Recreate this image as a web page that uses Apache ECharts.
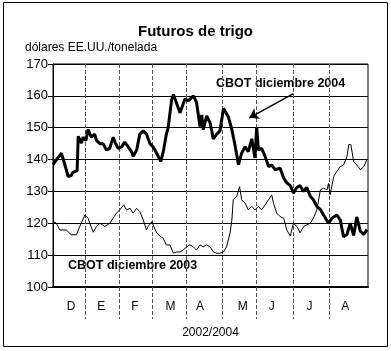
<!DOCTYPE html>
<html lang="es" style="height: 100%">
<head>
  <meta charset="utf-8">
</head>
<body style="height: 100%; margin: 0; background: #fff">
  <div id="container" style="width: 391px; height: 351px"></div>

  <script type="text/javascript" src="https://fastly.jsdelivr.net/npm/echarts@6.0.0/dist/echarts.min.js"></script>
  <script type="text/javascript">
// month positions on the x scale (0 = start of plot, 9 = end)
var monthEdges = [0.935, 1.88, 2.83, 3.8, 4.83, 5.82, 6.87, 7.88];
var monthLabelPos = [0.52, 1.38, 2.34, 3.36, 4.2, 5.42, 6.25, 7.33, 8.35];
var monthNames = ['D', 'E', 'F', 'M', 'A', 'M', 'J', 'J', 'A'];
var yTicks = [100, 110, 120, 130, 140, 150, 160, 170];

// CBOT diciembre 2004 (thick)
var dec04X = [0, 0.1, 0.24, 0.29, 0.38, 0.43, 0.52, 0.57, 0.69, 0.72, 0.81, 0.86, 0.94, 1.0, 1.1, 1.19, 1.24, 1.34, 1.43, 1.53,
  1.62, 1.72, 1.77, 1.86, 1.96, 2.05, 2.15, 2.24, 2.29, 2.39, 2.48, 2.58, 2.67, 2.77, 2.86, 2.96, 3.08, 3.15, 3.24, 3.29,
  3.39, 3.44, 3.63, 3.77, 3.87, 4.01, 4.1, 4.2, 4.25, 4.29, 4.39, 4.49, 4.58, 4.68, 4.77, 4.87, 5.01, 5.11, 5.2, 5.3,
  5.39, 5.49, 5.58, 5.68, 5.77, 5.82, 5.87, 5.96, 6.06, 6.16, 6.25, 6.35, 6.49, 6.59, 6.68, 6.78, 6.87, 6.97, 7.06, 7.16,
  7.25, 7.35, 7.44, 7.54, 7.64, 7.73, 7.87, 7.97, 8.11, 8.21, 8.3, 8.4, 8.49, 8.59, 8.68, 8.78, 8.88, 8.97];
var dec04Y = [138.4, 140, 142, 142, 136.8, 134.7, 135, 136, 136.5, 147.3, 145.2, 147, 146, 149.4, 147, 148, 146, 145, 145, 143,
  143.5, 147, 145.5, 143.5, 144, 145.5, 144, 142.5, 141, 143, 148, 149, 148, 145, 144, 142, 139.4, 142.4, 148, 150,
  158.8, 160.4, 154.7, 159, 158.5, 160, 158, 150.4, 154, 149.4, 153.7, 151.5, 146.5, 148, 149, 156, 153.4, 149.4, 144.5, 138.4,
  142, 144, 142.5, 146.5, 140.5, 150, 143, 143.5, 141, 137.8, 138.3, 136.8, 137.3, 134.2, 132.7, 131.8, 129.5, 131.3, 131.8, 130,
  131.3, 128.5, 127.4, 125.3, 124.3, 122.6, 120, 121.6, 122.6, 121, 115.8, 116.5, 120, 116.2, 122, 117.5, 116.5, 118];

// CBOT diciembre 2003 (thin)
var dec03X = [0, 0.1, 0.19, 0.38, 0.52, 0.67, 0.76, 0.81, 0.91, 1.0, 1.05, 1.15, 1.24, 1.34, 1.38, 1.48, 1.62, 1.72, 1.81, 1.91,
  2.02, 2.1, 2.2, 2.29, 2.39, 2.48, 2.58, 2.67, 2.72, 2.82, 2.86, 2.96, 3.05, 3.15, 3.24, 3.34, 3.44, 3.53, 3.63, 3.72,
  3.82, 3.91, 4.01, 4.1, 4.2, 4.29, 4.39, 4.49, 4.58, 4.68, 4.77, 4.87, 4.96, 5.06, 5.11, 5.13, 5.15, 5.25, 5.33, 5.39,
  5.49, 5.58, 5.68, 5.77, 5.87, 5.96, 6.06, 6.16, 6.25, 6.3, 6.39, 6.49, 6.59, 6.68, 6.78, 6.82, 6.87, 6.97, 7.06, 7.16,
  7.25, 7.35, 7.44, 7.54, 7.64, 7.73, 7.83, 7.87, 7.92, 8.02, 8.11, 8.21, 8.3, 8.4, 8.45, 8.51, 8.59, 8.68, 8.78, 8.88, 8.97];
var dec03Y = [120.5, 120, 117.9, 117.9, 116.4, 116.4, 118.9, 120.1, 122.6, 121.6, 120, 117.2, 119, 120, 120, 119, 120, 121.6, 123.2, 124.2,
  125.8, 124.2, 124.7, 123.2, 124.7, 123.7, 121, 117.9, 119, 120.5, 120, 117, 116, 115.3, 113.2, 113.2, 110.6, 111, 111, 111.6,
  112.6, 113.2, 112.6, 111.6, 113.2, 112.6, 113.2, 112.6, 111, 110.6, 110.6, 111, 112.6, 117, 121, 124.2, 127.4, 128.5, 131.5, 127.4,
  126.3, 124.2, 125.3, 124.2, 125.3, 124.2, 125.8, 127.4, 128.9, 126.3, 123.2, 122.1, 121.6, 117.9, 116, 117.9, 120, 119, 117, 119,
  119.5, 120, 121.6, 124.2, 130.5, 131, 130.5, 132.5, 129, 134.7, 136.3, 137.8, 138.3, 141, 144.7, 144.7, 139.4, 138.3, 136.8, 137.8, 140];

// arrow pointing at the 2004 line
var arrowFrom = [6.87, 160.7];
var arrowTo = [5.61, 153.1];

function pairs(xs, ys) {
  return xs.map(function (x, i) { return [x, ys[i]]; });
}

var myChart = echarts.init(document.getElementById('container'), null, { renderer: 'canvas' });

var font = 'Arial, "Liberation Sans", sans-serif';
var gridDash = { color: '#555', type: 'dashed', width: 1 };

var option = {
  animation: false,
  backgroundColor: '#fff',
  textStyle: { fontFamily: font, color: '#000' },
  title: {
    text: 'Futuros de trigo',
    left: 'center',
    top: 19,
    textStyle: { fontFamily: font, fontSize: 15, fontWeight: 'bold', color: '#000' }
  },
  grid: {
    left: 53, right: 23, top: 64, bottom: 64,
    show: true, borderColor: '#000', borderWidth: 1
  },
  xAxis: {
    type: 'value',
    min: 0,
    max: 9,
    name: '2002/2004',
    nameLocation: 'middle',
    nameGap: 40,
    nameTextStyle: { fontFamily: font, fontSize: 12, color: '#000' },
    axisLine: { show: true, lineStyle: { color: '#000', width: 2 } },
    axisTick: {
      show: true,
      customValues: monthEdges,
      length: 32,
      lineStyle: gridDash
    },
    splitLine: { show: true, lineStyle: gridDash },
    axisLabel: {
      customValues: monthLabelPos,
      margin: 14,
      fontFamily: font,
      fontSize: 12,
      color: '#000',
      formatter: function (v) {
        var best = 0;
        for (var i = 1; i < monthLabelPos.length; i++) {
          if (Math.abs(monthLabelPos[i] - v) < Math.abs(monthLabelPos[best] - v)) best = i;
        }
        return monthNames[best];
      }
    }
  },
  yAxis: {
    type: 'value',
    min: yTicks[0],
    max: yTicks[yTicks.length - 1],
    interval: 10,
    name: 'dólares EE.UU./tonelada',
    nameLocation: 'end',
    nameGap: 10,
    nameTextStyle: { fontFamily: font, fontSize: 12, color: '#000', align: 'left', padding: [0, 0, 0, -28] },
    axisLine: { show: true, lineStyle: { color: '#000' } },
    axisTick: { show: true, length: 5, lineStyle: { color: '#000' } },
    splitLine: { show: true, lineStyle: { color: '#000', width: 1 } },
    axisLabel: { fontFamily: font, fontSize: 13, color: '#000', margin: 5 }
  },
  series: [
    {
      name: 'CBOT diciembre 2003',
      type: 'line',
      data: pairs(dec03X, dec03Y),
      showSymbol: false,
      lineStyle: { color: '#000', width: 1 },
      z: 3
    },
    {
      name: 'CBOT diciembre 2004',
      type: 'line',
      data: pairs(dec04X, dec04Y),
      showSymbol: false,
      lineStyle: { color: '#000', width: 3 },
      z: 4,
      markLine: {
        silent: true,
        symbol: ['none', 'arrow'],
        symbolSize: 9,
        label: { show: false },
        lineStyle: { color: '#000', width: 1.5, type: 'solid' },
        data: [[{ coord: arrowFrom }, { coord: arrowTo }]]
      }
    }
  ],
  graphic: [
    {
      type: 'rect',
      shape: { x: 3.5, y: 2.5, width: 384, height: 344 },
      style: { fill: null, stroke: '#000', lineWidth: 1 },
      silent: true
    },
    {
      type: 'text',
      left: 216, top: 77,
      style: { text: 'CBOT diciembre 2004', font: 'bold 12.5px ' + font, fill: '#000' }
    },
    {
      type: 'text',
      left: 68, top: 259,
      style: { text: 'CBOT diciembre 2003', font: 'bold 12.5px ' + font, fill: '#000' }
    }
  ]
};

myChart.setOption(option);
window.addEventListener('resize', myChart.resize);
  </script>
</body>
</html>
